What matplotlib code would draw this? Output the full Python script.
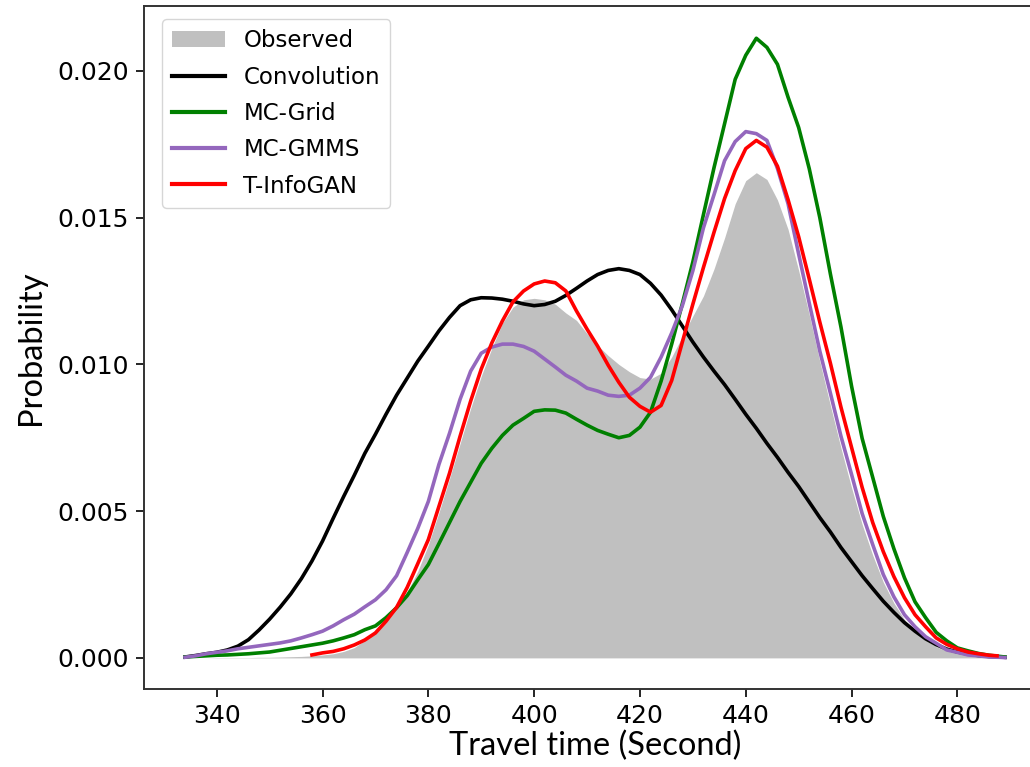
import numpy as np
import matplotlib
matplotlib.use("Agg")
import matplotlib.pyplot as plt

# travel time grid (second): 334, 336, ..., 488, 489
x = np.append(np.arange(334, 489, 2), 489)
# T-InfoGAN covers a shorter span: 358, 360, ..., 486, 487.5
x_gan = np.append(np.arange(358, 487, 2), 487.5)

# densities, in units of 1e-3
observed = [0.0, 0.0, 0.0, 0.01, 0.01, 0.01, 0.01, 0.02, 0.02, 0.03,
            0.04, 0.05, 0.07, 0.10, 0.14, 0.22, 0.35, 0.60, 0.95, 1.30,
            1.70, 2.25, 2.95, 3.85, 4.95, 6.10, 7.30, 8.50, 9.60, 10.55,
            11.40, 11.95, 12.20, 12.25, 12.20, 12.05, 11.75, 11.50, 11.05, 10.65,
            10.30, 10.00, 9.75, 9.55, 9.50, 9.70, 10.25, 10.95, 11.65, 12.33,
            13.25, 14.31, 15.47, 16.26, 16.53, 16.30, 15.60, 14.60, 13.20, 11.70,
            10.10, 8.60, 7.15, 5.80, 4.55, 3.50, 2.58, 1.87, 1.31, 0.90,
            0.60, 0.38, 0.24, 0.15, 0.09, 0.05, 0.03, 0.01, 0.0]
convolution = [0.03, 0.08, 0.14, 0.19, 0.27, 0.40, 0.62, 0.95, 1.32, 1.73,
               2.18, 2.70, 3.30, 3.98, 4.75, 5.50, 6.22, 6.97, 7.62, 8.30,
               8.95, 9.53, 10.11, 10.62, 11.14, 11.60, 12.00, 12.20, 12.27, 12.26,
               12.22, 12.15, 12.06, 12.00, 12.04, 12.15, 12.35, 12.59, 12.84, 13.06,
               13.20, 13.26, 13.20, 13.06, 12.76, 12.36, 11.86, 11.31, 10.76, 10.25,
               9.77, 9.31, 8.81, 8.30, 7.82, 7.31, 6.83, 6.32, 5.84, 5.31,
               4.78, 4.29, 3.76, 3.28, 2.80, 2.36, 1.93, 1.55, 1.20, 0.91,
               0.65, 0.45, 0.30, 0.20, 0.13, 0.08, 0.05, 0.03, 0.02]
mc_grid = [0.03, 0.05, 0.07, 0.09, 0.10, 0.12, 0.14, 0.17, 0.20, 0.26,
           0.32, 0.38, 0.44, 0.50, 0.58, 0.68, 0.79, 0.96, 1.09, 1.37,
           1.71, 2.12, 2.66, 3.18, 3.89, 4.61, 5.33, 5.98, 6.63, 7.14,
           7.58, 7.93, 8.16, 8.40, 8.45, 8.44, 8.34, 8.13, 7.93, 7.75,
           7.62, 7.50, 7.58, 7.86, 8.37, 9.43, 10.69, 12.06, 13.49, 15.10,
           16.70, 18.20, 19.71, 20.53, 21.11, 20.80, 20.22, 19.10, 18.07, 16.67,
           15.00, 13.08, 11.27, 9.26, 7.48, 6.15, 4.82, 3.72, 2.73, 1.91,
           1.37, 0.87, 0.58, 0.34, 0.24, 0.15, 0.09, 0.05, 0.03]
mc_gmms = [0.02, 0.07, 0.14, 0.19, 0.24, 0.31, 0.36, 0.41, 0.46, 0.51,
           0.58, 0.68, 0.79, 0.91, 1.09, 1.30, 1.49, 1.74, 1.98, 2.32,
           2.80, 3.59, 4.41, 5.33, 6.59, 7.65, 8.81, 9.77, 10.38, 10.59,
           10.69, 10.69, 10.61, 10.45, 10.18, 9.91, 9.63, 9.43, 9.19, 9.09,
           8.95, 8.91, 8.95, 9.19, 9.56, 10.25, 11.07, 11.99, 13.19, 14.65,
           15.78, 16.94, 17.59, 17.93, 17.86, 17.63, 16.67, 15.47, 13.76, 12.09,
           10.45, 9.02, 7.55, 6.25, 4.92, 3.86, 2.84, 2.08, 1.47, 1.06,
           0.72, 0.50, 0.27, 0.19, 0.10, 0.07, 0.03, 0.02, 0.01]
t_infogan = [0.10, 0.17, 0.22, 0.31, 0.44, 0.61, 0.85, 1.25, 1.72, 2.40,
             3.21, 4.03, 5.16, 6.29, 7.55, 8.75, 9.84, 10.73, 11.48, 12.13,
             12.50, 12.74, 12.84, 12.78, 12.50, 11.82, 11.20, 10.62, 9.97, 9.39,
             8.88, 8.57, 8.37, 8.60, 9.45, 10.75, 12.05, 13.30, 14.50, 15.65,
             16.60, 17.35, 17.63, 17.40, 16.75, 15.61, 14.35, 12.91, 11.44, 10.04,
             8.54, 7.17, 5.81, 4.61, 3.62, 2.77, 2.05, 1.47, 1.06, 0.68,
             0.46, 0.31, 0.20, 0.14, 0.09, 0.07]

scale = 1e-3

fig = plt.figure(figsize=(10.3, 7.67), dpi=100)
ax = fig.add_axes([0.1398, 0.1017, 0.8757, 0.8905])

ax.fill_between(x, np.array(observed) * scale, color='#c0c0c0', lw=0, label='Observed')
ax.plot(x, np.array(convolution) * scale, color='black', lw=2.6, label='Convolution')
ax.plot(x, np.array(mc_grid) * scale, color='green', lw=2.6, label='MC-Grid')
ax.plot(x, np.array(mc_gmms) * scale, color='#9467bd', lw=2.6, label='MC-GMMS')
ax.plot(x_gan, np.array(t_infogan) * scale, color='red', lw=2.6, label='T-InfoGAN')

ax.set_xlim(326.25, 496.75)
ax.set_ylim(-0.00106, 0.02221)
ax.set_xticks(np.arange(340, 481, 20))
ax.set_yticks([0.0, 0.005, 0.010, 0.015, 0.020])
ax.set_yticklabels(['0.000', '0.005', '0.010', '0.015', '0.020'])

ax.tick_params(axis='both', labelsize=18, length=6, width=1.2, pad=5)
for sp in ax.spines.values():
    sp.set_linewidth(1.4)
    sp.set_color('#333333')

ax.set_xlabel('Travel time (Second)', fontsize=23.5, family='Lato', labelpad=2)
ax.set_ylabel('Probability', fontsize=23.5, family='Lato', labelpad=8)

leg = ax.legend(loc='upper left', bbox_to_anchor=(0.1573, 0.9752),
                bbox_transform=fig.transFigure, fontsize=16.5,
                handlelength=2.3, labelspacing=0.58, borderpad=0.45,
                borderaxespad=0)
for line in leg.get_lines():
    line.set_linewidth(3)

fig.savefig('out.png', dpi=100)
